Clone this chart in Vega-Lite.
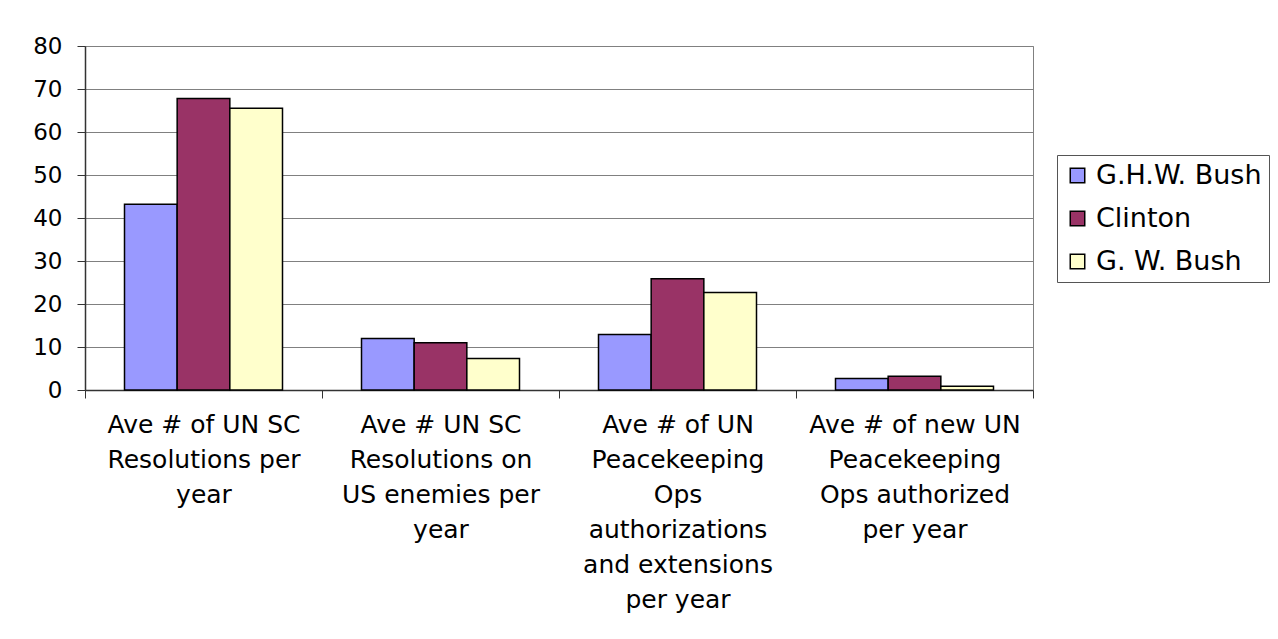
{
  "$schema": "https://vega.github.io/schema/vega-lite/v6.json",
  "autosize": {"type": "none"},
  "padding": {"left": 85, "top": 46, "right": 245, "bottom": 249},
  "width": 948,
  "height": 344,
  "background": "white",
  "data": {
    "values": [
      {"measure": "Ave # of UN SC|Resolutions per|year", "president": "G.H.W. Bush", "value": 43.2},
      {"measure": "Ave # of UN SC|Resolutions per|year", "president": "Clinton", "value": 67.8},
      {"measure": "Ave # of UN SC|Resolutions per|year", "president": "G. W. Bush", "value": 65.5},
      {"measure": "Ave # UN SC|Resolutions on|US enemies per|year", "president": "G.H.W. Bush", "value": 12.0},
      {"measure": "Ave # UN SC|Resolutions on|US enemies per|year", "president": "Clinton", "value": 11.0},
      {"measure": "Ave # UN SC|Resolutions on|US enemies per|year", "president": "G. W. Bush", "value": 7.3},
      {"measure": "Ave #  of UN|Peacekeeping|Ops|authorizations|and extensions|per year", "president": "G.H.W. Bush", "value": 12.9},
      {"measure": "Ave #  of UN|Peacekeeping|Ops|authorizations|and extensions|per year", "president": "Clinton", "value": 25.9},
      {"measure": "Ave #  of UN|Peacekeeping|Ops|authorizations|and extensions|per year", "president": "G. W. Bush", "value": 22.7},
      {"measure": "Ave #  of new UN|Peacekeeping|Ops authorized|per year", "president": "G.H.W. Bush", "value": 2.7},
      {"measure": "Ave #  of new UN|Peacekeeping|Ops authorized|per year", "president": "Clinton", "value": 3.2},
      {"measure": "Ave #  of new UN|Peacekeeping|Ops authorized|per year", "president": "G. W. Bush", "value": 0.9}
    ]
  },
  "mark": {"type": "bar", "stroke": "black", "strokeWidth": 1.5},
  "encoding": {
    "x": {
      "field": "measure",
      "type": "nominal",
      "sort": null,
      "scale": {"paddingInner": 0, "paddingOuter": 0},
      "axis": {
        "title": null,
        "labelAngle": 0,
        "labelExpr": "split(datum.label, '|')",
        "labelFont": "DejaVu Sans",
        "labelFontSize": 25,
        "labelLineHeight": 35,
        "labelColor": "black",
        "labelPadding": 14,
        "labelLimit": 400,
        "tickBand": "extent",
        "tickSize": 8,
        "tickColor": "#333",
        "domainColor": "#333",
        "domainWidth": 1.5,
        "grid": false
      }
    },
    "xOffset": {
      "field": "president",
      "type": "nominal",
      "sort": ["G.H.W. Bush", "Clinton", "G. W. Bush"],
      "scale": {"paddingInner": 0, "paddingOuter": 0.75}
    },
    "y": {
      "field": "value",
      "type": "quantitative",
      "scale": {"domain": [0, 80], "nice": false},
      "axis": {
        "title": null,
        "values": [0, 10, 20, 30, 40, 50, 60, 70, 80],
        "labelFont": "DejaVu Sans",
        "labelFontSize": 23,
        "labelColor": "black",
        "labelPadding": 15,
        "tickSize": 8,
        "tickColor": "#333",
        "domainColor": "#333",
        "domainWidth": 1.5,
        "grid": true,
        "gridColor": "#808080",
        "gridWidth": 1
      }
    },
    "fill": {
      "field": "president",
      "type": "nominal",
      "sort": ["G.H.W. Bush", "Clinton", "G. W. Bush"],
      "scale": {"domain": ["G.H.W. Bush", "Clinton", "G. W. Bush"], "range": ["#9999FF", "#993366", "#FFFFCC"]},
      "legend": {
        "title": null,
        "orient": "none",
        "legendX": 972,
        "legendY": 109,
        "strokeColor": "#555",
        "fillColor": "white",
        "padding": 7,
        "symbolType": "square",
        "symbolSize": 210,
        "symbolStrokeColor": "black",
        "symbolStrokeWidth": 1.5,
        "labelFont": "DejaVu Sans",
        "labelFontSize": 27,
        "labelColor": "black",
        "labelOffset": 5,
        "rowPadding": 15,
        "labelLimit": 400
      }
    }
  },
  "config": {
    "view": {"stroke": "#808080", "strokeWidth": 1}
  }
}
